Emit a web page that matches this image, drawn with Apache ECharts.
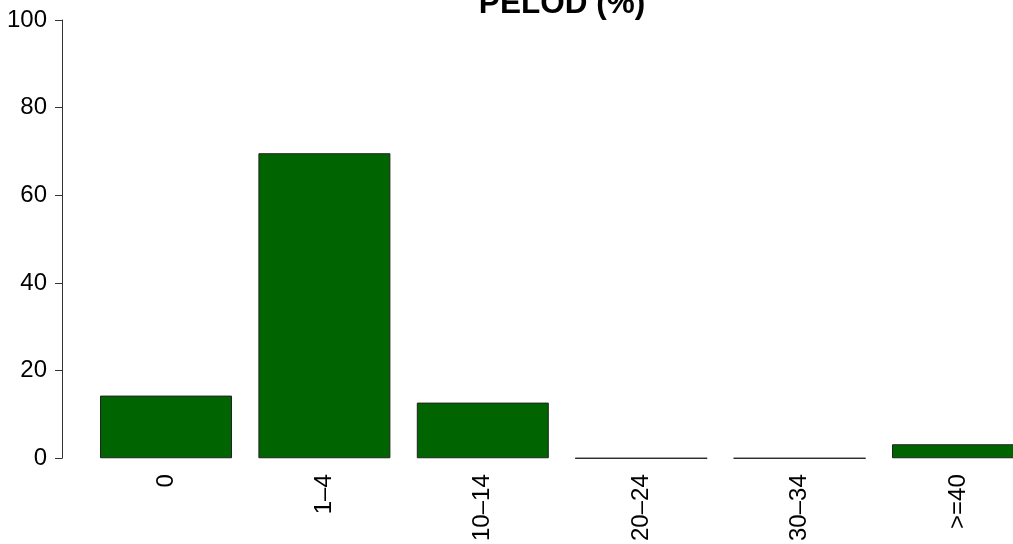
<!DOCTYPE html>
<html>
<head>
<meta charset="utf-8">
<script src="https://cdn.jsdelivr.net/npm/echarts@6/dist/echarts.min.js"></script>
<style>
    html, body { margin: 0; padding: 0; background: #fff; overflow: hidden; }
    /* wider than the window: the last bar runs off the right edge, as in the original */
    #chart { width: 1040px; height: 544px; }
</style>
</head>
<body>
<div id="chart"></div>
<script>
let categories = ['0', '1\u20134', '10\u201314', '20\u201324', '30\u201334', '>=40']
let values = [14.3, 69.6, 12.7, 0, 0, 3.2]
let yTicks = [0, 20, 40, 60, 80, 100]

let myChart = echarts.init(document.getElementById('chart'))
let option = {
    animation: false,
    textStyle: { fontFamily: 'Liberation Sans, Arial, sans-serif' },
    title: {
        text: 'PELOD (%)',
        left: 557,
        textAlign: 'center',
        top: -17,
        textStyle: { fontSize: 31.5, fontWeight: 'bold', color: '#000' }
    },
    grid: {
        left: 86.8,
        width: 950.4,
        top: 20,
        height: 440,
        containLabel: false
    },
    xAxis: {
        type: 'category',
        data: categories,
        axisLine: { show: false },
        axisTick: { show: false },
        axisLabel: {
            rotate: 90,
            margin: 16,
            fontSize: 24,
            color: '#000',
            interval: 0
        }
    },
    yAxis: {
        type: 'value',
        min: yTicks[0],
        max: yTicks[yTicks.length - 1],
        interval: 20,
        offset: 24.8,
        splitLine: { show: false },
        axisLine: { show: true, lineStyle: { color: '#333', width: 1 } },
        axisTick: { show: true, inside: false, length: 7, lineStyle: { color: '#333' } },
        axisLabel: { fontSize: 24, color: '#000', margin: 15 }
    },
    series: [{
        type: 'bar',
        data: values,
        barWidth: 132,
        itemStyle: {
            color: '#006400',
            borderColor: '#222',
            borderWidth: 1
        }
    }]
}
myChart.setOption(option)
</script>
</body>
</html>
